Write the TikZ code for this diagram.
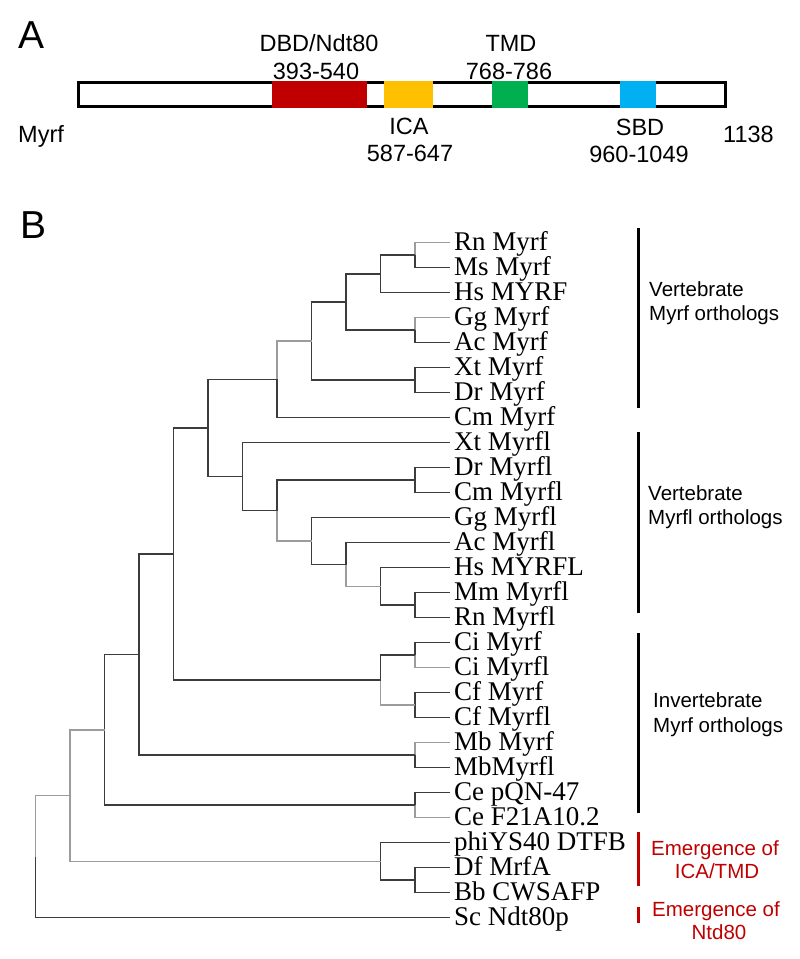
\documentclass[tikz,border=0pt]{standalone}
\usepackage{fontspec}
\setmainfont{Liberation Sans}
\newfontfamily\tnr{Liberation Serif}
\definecolor{dbdred}{HTML}{C00000}
\definecolor{icaor}{HTML}{FFC000}
\definecolor{tmdgr}{HTML}{00B050}
\definecolor{sbdbl}{HTML}{00B0F0}
\definecolor{emred}{HTML}{C00000}
\definecolor{edgedark}{HTML}{3C3C3C}
\definecolor{edgelight}{HTML}{9C9C9C}
\begin{document}
\begin{tikzpicture}[x=1pt,y=-1pt,
  panel/.style={font=\fontsize{39}{44}\selectfont, inner sep=0pt, anchor=base west},
  lab/.style={font=\fontsize{23.5}{28}\selectfont, inner sep=0pt, anchor=base},
  leaflab/.style={font=\tnr\fontsize{27}{27}\selectfont, inner sep=0pt, anchor=base west},
  grp/.style={font=\fontsize{20.5}{24}\selectfont, inner sep=0pt, anchor=base west},
  emlab/.style={font=\fontsize{20.5}{24}\selectfont, inner sep=0pt, anchor=base, text=emred},
  br/.style={draw=edgedark, line width=1.5pt},
  brl/.style={draw=edgelight, line width=1.5pt},
  bracket/.style={draw=black, line width=3pt},
  embracket/.style={draw=emred, line width=3pt}
]
\useasboundingbox (0,0) rectangle (800,959);

% ---------------- Panel A ----------------
\node[panel] (A) at (18,48) {A};
\draw[line width=3pt] (78.5,82.5) rectangle (725,106.5);
\fill[dbdred] (272,81) rectangle (367,108);
\fill[icaor] (384,81) rectangle (433,108);
\fill[tmdgr] (492,81) rectangle (528,108);
\fill[sbdbl] (620,81) rectangle (656,108);
\node[lab] (dbd) at (319,51) {DBD/Ndt80};
\node[lab] (dbdr) at (316,79) {393-540};
\node[lab] (tmd) at (511,51) {TMD};
\node[lab] (tmdr) at (509,79) {768-786};
\node[lab] (ica) at (409,134) {ICA};
\node[lab] (icar) at (410,161) {587-647};
\node[lab] (sbd) at (640,135) {SBD};
\node[lab] (sbdr) at (639,162) {960-1049};
\node[lab, anchor=base west] (myrf) at (18,142) {Myrf};
\node[lab, anchor=base west] (len) at (723,142) {1138};

% ---------------- Panel B ----------------
\node[panel] (B) at (20,238) {B};

\foreach \t [count=\i from 0] in {Rn Myrf, Ms Myrf, Hs MYRF, Gg Myrf, Ac Myrf, Xt Myrf, Dr Myrf, Cm Myrf,
  Xt Myrfl, Dr Myrfl, Cm Myrfl, Gg Myrfl, Ac Myrfl, Hs MYRFL, Mm Myrfl, Rn Myrfl,
  Ci Myrf, Ci Myrfl, Cf Myrf, Cf Myrfl, Mb Myrf, MbMyrfl, Ce pQN-47, Ce F21A10.2,
  phiYS40 DTFB, Df MrfA, Bb CWSAFP, Sc Ndt80p}{
  \coordinate (l\i) at (450, 242.7+25*\i);
  \node[leaflab] (t\i) at (454, 250.7+25*\i) {\t};
}

% internal nodes (x = 35.7 + 34.5*level)
\coordinate (a1) at (415.2,255.2);
\coordinate (a2) at (380.7,273.95);
\coordinate (a3) at (415.2,330.2);
\coordinate (a4) at (346.2,302.08);
\coordinate (a5) at (415.2,380.2);
\coordinate (a6) at (311.7,341.14);
\coordinate (a7) at (277.2,379.42);
\coordinate (b1) at (415.2,480.2);
\coordinate (b2) at (415.2,605.2);
\coordinate (b3) at (380.7,586.45);
\coordinate (b4) at (346.2,564.58);
\coordinate (b5) at (311.7,541.14);
\coordinate (b6) at (277.2,510.67);
\coordinate (b7) at (242.7,476.69);
\coordinate (c0) at (208.2,428.05);
\coordinate (c1) at (415.2,655.2);
\coordinate (c2) at (415.2,705.2);
\coordinate (c3) at (380.7,680.2);
\coordinate (c4) at (173.7,554.13);
\coordinate (c5) at (415.2,755.2);
\coordinate (c6) at (139.2,654.66);
\coordinate (c7) at (415.2,805.2);
\coordinate (c8) at (104.7,729.93);
\coordinate (d1) at (415.2,880.2);
\coordinate (d2) at (380.7,861.45);
\coordinate (d3) at (70.2,795.69);
\coordinate (root) at (35.7,856.7);

% edges
\draw[brl] (a1) |- (l0);  \draw[br] (a1) |- (l1);
\draw[br] (a2) |- (a1);   \draw[br] (a2) |- (l2);
\draw[brl] (a3) |- (l3);  \draw[br] (a3) |- (l4);
\draw[br] (a4) |- (a2);   \draw[br] (a4) |- (a3);
\draw[br] (a5) |- (l5);   \draw[br] (a5) |- (l6);
\draw[br] (a6) |- (a4);   \draw[br] (a6) |- (a5);
\draw[brl] (a7) |- (a6);  \draw[br] (a7) |- (l7);
\draw[br] (b1) |- (l9);   \draw[br] (b1) |- (l10);
\draw[br] (b2) |- (l14);  \draw[br] (b2) |- (l15);
\draw[br] (b3) |- (l13);  \draw[br] (b3) |- (b2);
\draw[br] (b4) |- (l12);  \draw[brl] (b4) |- (b3);
\draw[br] (b5) |- (l11);  \draw[br] (b5) |- (b4);
\draw[br] (b6) |- (b1);   \draw[brl] (b6) |- (b5);
\draw[br] (b7) |- (l8);   \draw[br] (b7) |- (b6);
\draw[br] (c0) |- (a7);   \draw[br] (c0) |- (b7);
\draw[br] (c1) |- (l16);  \draw[brl] (c1) |- (l17);
\draw[br] (c2) |- (l18);  \draw[br] (c2) |- (l19);
\draw[br] (c3) |- (c1);   \draw[brl] (c3) |- (c2);
\draw[br] (c4) |- (c0);   \draw[br] (c4) |- (c3);
\draw[brl] (c5) |- (l20); \draw[br] (c5) |- (l21);
\draw[br] (c6) |- (c4);   \draw[br] (c6) |- (c5);
\draw[br] (c7) |- (l22);  \draw[brl] (c7) |- (l23);
\draw[br] (c8) |- (c6);   \draw[br] (c8) |- (c7);
\draw[br] (d1) |- (l25);  \draw[br] (d1) |- (l26);
\draw[br] (d2) |- (l24);  \draw[br] (d2) |- (d1);
\draw[brl] (d3) |- (c8);  \draw[brl] (d3) |- (d2);
\draw[brl] (root) |- (d3); \draw[br] (root) |- (l27);

% group brackets
\coordinate (g1t) at (638,228); \coordinate (g1b) at (638,408);
\coordinate (g2t) at (638,432); \coordinate (g2b) at (638,613);
\coordinate (g3t) at (638,633); \coordinate (g3b) at (638,813);
\coordinate (g4t) at (638,832); \coordinate (g4b) at (638,886);
\coordinate (g5t) at (638,907); \coordinate (g5b) at (638,923);
\draw[bracket] (g1t) -- (g1b);
\draw[bracket] (g2t) -- (g2b);
\draw[bracket] (g3t) -- (g3b);
\draw[embracket] (g4t) -- (g4b);
\draw[embracket] (g5t) -- (g5b);

\node[grp] (g1a) at (649,296) {Vertebrate};
\node[grp] (g1c) at (649,320) {Myrf orthologs};
\node[grp] (g2a) at (648,500) {Vertebrate};
\node[grp] (g2c) at (648,524) {Myrfl orthologs};
\node[grp] (g3a) at (653,707) {Invertebrate};
\node[grp] (g3c) at (653,732) {Myrf orthologs};
\node[emlab] (g4a) at (715,855) {Emergence of};
\node[emlab] (g4c) at (717,878) {ICA/TMD};
\node[emlab] (g5a) at (716,916) {Emergence of};
\node[emlab] (g5c) at (719,939) {Ntd80};
\end{tikzpicture}
\end{document}
